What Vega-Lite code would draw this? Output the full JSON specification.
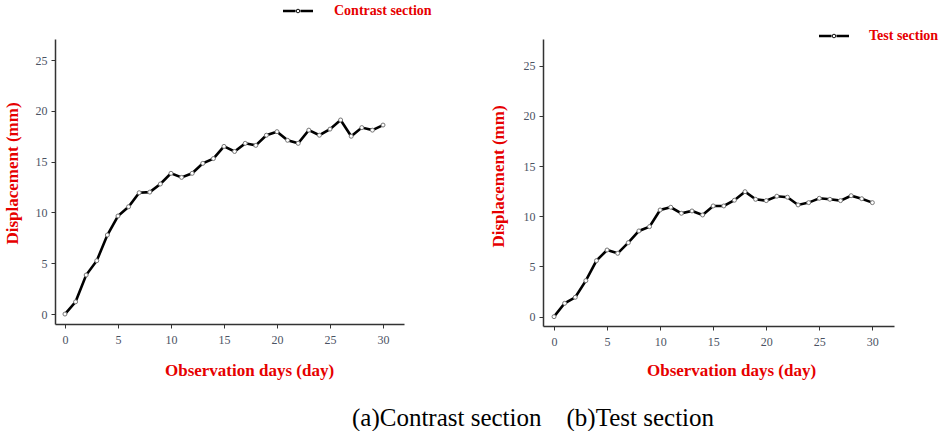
{
  "$schema": "https://vega.github.io/schema/vega-lite/v6.json",
  "padding": {"left": 3, "top": 4, "right": 0, "bottom": 0},
  "background": "white",
  "datasets": {
    "contrast": [
      {"day": 0, "disp": 0, "section": "Contrast section"},
      {"day": 1, "disp": 1.2, "section": "Contrast section"},
      {"day": 2, "disp": 3.84, "section": "Contrast section"},
      {"day": 3, "disp": 5.25, "section": "Contrast section"},
      {"day": 4, "disp": 7.78, "section": "Contrast section"},
      {"day": 5, "disp": 9.65, "section": "Contrast section"},
      {"day": 6, "disp": 10.56, "section": "Contrast section"},
      {"day": 7, "disp": 11.94, "section": "Contrast section"},
      {"day": 8, "disp": 12.0, "section": "Contrast section"},
      {"day": 9, "disp": 12.8, "section": "Contrast section"},
      {"day": 10, "disp": 13.85, "section": "Contrast section"},
      {"day": 11, "disp": 13.45, "section": "Contrast section"},
      {"day": 12, "disp": 13.85, "section": "Contrast section"},
      {"day": 13, "disp": 14.83, "section": "Contrast section"},
      {"day": 14, "disp": 15.3, "section": "Contrast section"},
      {"day": 15, "disp": 16.5, "section": "Contrast section"},
      {"day": 16, "disp": 16.0, "section": "Contrast section"},
      {"day": 17, "disp": 16.8, "section": "Contrast section"},
      {"day": 18, "disp": 16.6, "section": "Contrast section"},
      {"day": 19, "disp": 17.6, "section": "Contrast section"},
      {"day": 20, "disp": 17.95, "section": "Contrast section"},
      {"day": 21, "disp": 17.1, "section": "Contrast section"},
      {"day": 22, "disp": 16.8, "section": "Contrast section"},
      {"day": 23, "disp": 18.1, "section": "Contrast section"},
      {"day": 24, "disp": 17.6, "section": "Contrast section"},
      {"day": 25, "disp": 18.2, "section": "Contrast section"},
      {"day": 26, "disp": 19.1, "section": "Contrast section"},
      {"day": 27, "disp": 17.5, "section": "Contrast section"},
      {"day": 28, "disp": 18.35, "section": "Contrast section"},
      {"day": 29, "disp": 18.1, "section": "Contrast section"},
      {"day": 30, "disp": 18.6, "section": "Contrast section"}
    ],
    "test": [
      {"day": 0, "disp": 0, "section": "Test section"},
      {"day": 1, "disp": 1.33, "section": "Test section"},
      {"day": 2, "disp": 1.93, "section": "Test section"},
      {"day": 3, "disp": 3.59, "section": "Test section"},
      {"day": 4, "disp": 5.58, "section": "Test section"},
      {"day": 5, "disp": 6.64, "section": "Test section"},
      {"day": 6, "disp": 6.31, "section": "Test section"},
      {"day": 7, "disp": 7.37, "section": "Test section"},
      {"day": 8, "disp": 8.54, "section": "Test section"},
      {"day": 9, "disp": 8.97, "section": "Test section"},
      {"day": 10, "disp": 10.63, "section": "Test section"},
      {"day": 11, "disp": 10.9, "section": "Test section"},
      {"day": 12, "disp": 10.3, "section": "Test section"},
      {"day": 13, "disp": 10.53, "section": "Test section"},
      {"day": 14, "disp": 10.13, "section": "Test section"},
      {"day": 15, "disp": 11.03, "section": "Test section"},
      {"day": 16, "disp": 11.03, "section": "Test section"},
      {"day": 17, "disp": 11.6, "section": "Test section"},
      {"day": 18, "disp": 12.45, "section": "Test section"},
      {"day": 19, "disp": 11.69, "section": "Test section"},
      {"day": 20, "disp": 11.56, "section": "Test section"},
      {"day": 21, "disp": 12.0, "section": "Test section"},
      {"day": 22, "disp": 11.9, "section": "Test section"},
      {"day": 23, "disp": 11.13, "section": "Test section"},
      {"day": 24, "disp": 11.36, "section": "Test section"},
      {"day": 25, "disp": 11.79, "section": "Test section"},
      {"day": 26, "disp": 11.69, "section": "Test section"},
      {"day": 27, "disp": 11.56, "section": "Test section"},
      {"day": 28, "disp": 12.05, "section": "Test section"},
      {"day": 29, "disp": 11.75, "section": "Test section"},
      {"day": 30, "disp": 11.36, "section": "Test section"}
    ]
  },
  "title": {
    "text": "(a)Contrast section\u00a0\u00a0\u00a0\u00a0(b)Test section",
    "orient": "bottom",
    "anchor": "middle",
    "font": "Liberation Serif",
    "fontSize": 25,
    "fontWeight": "normal",
    "color": "black",
    "offset": 28,
    "dx": 62
  },
  "bounds": "flush",
  "spacing": 139,
  "resolve": {"scale": {"color": "independent"}, "legend": {"color": "independent"}},
  "hconcat": [
    {
      "width": 349,
      "height": 285,
      "data": {"name": "contrast"},
      "layer": [
        {
          "mark": {"type": "line", "strokeWidth": 2.6},
          "encoding": {
            "x": {
              "field": "day", "type": "quantitative",
              "scale": {"domain": [-0.94, 31.98], "nice": false, "zero": false},
              "axis": {
                "values": [0, 2.5, 5, 7.5, 10, 12.5, 15, 17.5, 20, 22.5, 25, 27.5, 30],
                "labelExpr": "datum.value % 5 === 0 ? datum.label : ''",
                "title": "Observation days (day)",
                "titleX": 194, "titleY": 46
              }
            },
            "y": {
              "field": "disp", "type": "quantitative",
              "scale": {"domain": [-0.98, 27.07], "nice": false, "zero": false},
              "axis": {
                "values": [0, 2.5, 5, 7.5, 10, 12.5, 15, 17.5, 20, 22.5, 25],
                "labelExpr": "datum.value % 5 === 0 ? datum.label : ''",
                "title": "Displacement (mm)",
                "titleX": -43, "titleY": 134
              }
            },
            "color": {
              "field": "section", "type": "nominal",
              "scale": {"range": ["black"]},
              "legend": {"orient": "none", "legendX": 236, "legendY": -35, "labelOffset": 29}
            }
          }
        },
        {
          "mark": {"type": "point", "shape": "circle", "filled": true, "fill": "white", "stroke": "#777777", "strokeWidth": 1, "size": 16, "opacity": 1},
          "encoding": {
            "x": {"field": "day", "type": "quantitative"},
            "y": {"field": "disp", "type": "quantitative"}
          }
        }
      ]
    },
    {
      "width": 351,
      "height": 287,
      "data": {"name": "test"},
      "layer": [
        {
          "mark": {"type": "line", "strokeWidth": 2.6},
          "encoding": {
            "x": {
              "field": "day", "type": "quantitative",
              "scale": {"domain": [-1.04, 32.04], "nice": false, "zero": false},
              "axis": {
                "values": [0, 2.5, 5, 7.5, 10, 12.5, 15, 17.5, 20, 22.5, 25, 27.5, 30],
                "labelExpr": "datum.value % 5 === 0 ? datum.label : ''",
                "title": "Observation days (day)",
                "titleX": 188, "titleY": 44
              }
            },
            "y": {
              "field": "disp", "type": "quantitative",
              "scale": {"domain": [-0.93, 27.66], "nice": false, "zero": false},
              "axis": {
                "values": [0, 2.5, 5, 7.5, 10, 12.5, 15, 17.5, 20, 22.5, 25],
                "labelExpr": "datum.value % 5 === 0 ? datum.label : ''",
                "title": "Displacement (mm)",
                "titleX": -45, "titleY": 137
              }
            },
            "color": {
              "field": "section", "type": "nominal",
              "scale": {"range": ["black"]},
              "legend": {"orient": "none", "legendX": 284, "legendY": -10, "labelOffset": 28}
            }
          }
        },
        {
          "mark": {"type": "point", "shape": "circle", "filled": true, "fill": "white", "stroke": "#777777", "strokeWidth": 1, "size": 16, "opacity": 1},
          "encoding": {
            "x": {"field": "day", "type": "quantitative"},
            "y": {"field": "disp", "type": "quantitative"}
          }
        }
      ]
    }
  ],
  "config": {
    "view": {"stroke": null},
    "axis": {
      "grid": false,
      "domainColor": "#333333",
      "domainWidth": 1.5,
      "tickColor": "#333333",
      "tickWidth": 1,
      "tickSize": 4,
      "labelFont": "Liberation Serif",
      "labelFontSize": 12,
      "labelColor": "#4b5263",
      "labelPadding": 4,
      "labelOverlap": false,
      "labelFlush": false,
      "titleFont": "Liberation Serif",
      "titleFontSize": 17,
      "titleFontWeight": "bold",
      "titleColor": "#e60000",
      "titleAlign": "center",
      "titleBaseline": "middle"
    },
    "axisX": {"labelPadding": 6.5},
    "legend": {
      "title": null,
      "padding": 0,
      "labelFont": "Liberation Serif",
      "labelFontSize": 14,
      "labelFontWeight": "bold",
      "labelColor": "#e60000",
      "symbolSize": 100,
      "symbolType": "M-3,-0.27H-0.5V0.27H-3Z M0.5,-0.27H3V0.27H0.5Z M0.44,0A0.44,0.44,0,1,0,-0.44,0A0.44,0.44,0,1,0,0.44,0Z M0.26,0A0.26,0.26,0,1,1,-0.26,0A0.26,0.26,0,1,1,0.26,0Z",
      "symbolFillColor": "black",
      "symbolStrokeWidth": 0,
      "symbolOpacity": 1
    }
  }
}
